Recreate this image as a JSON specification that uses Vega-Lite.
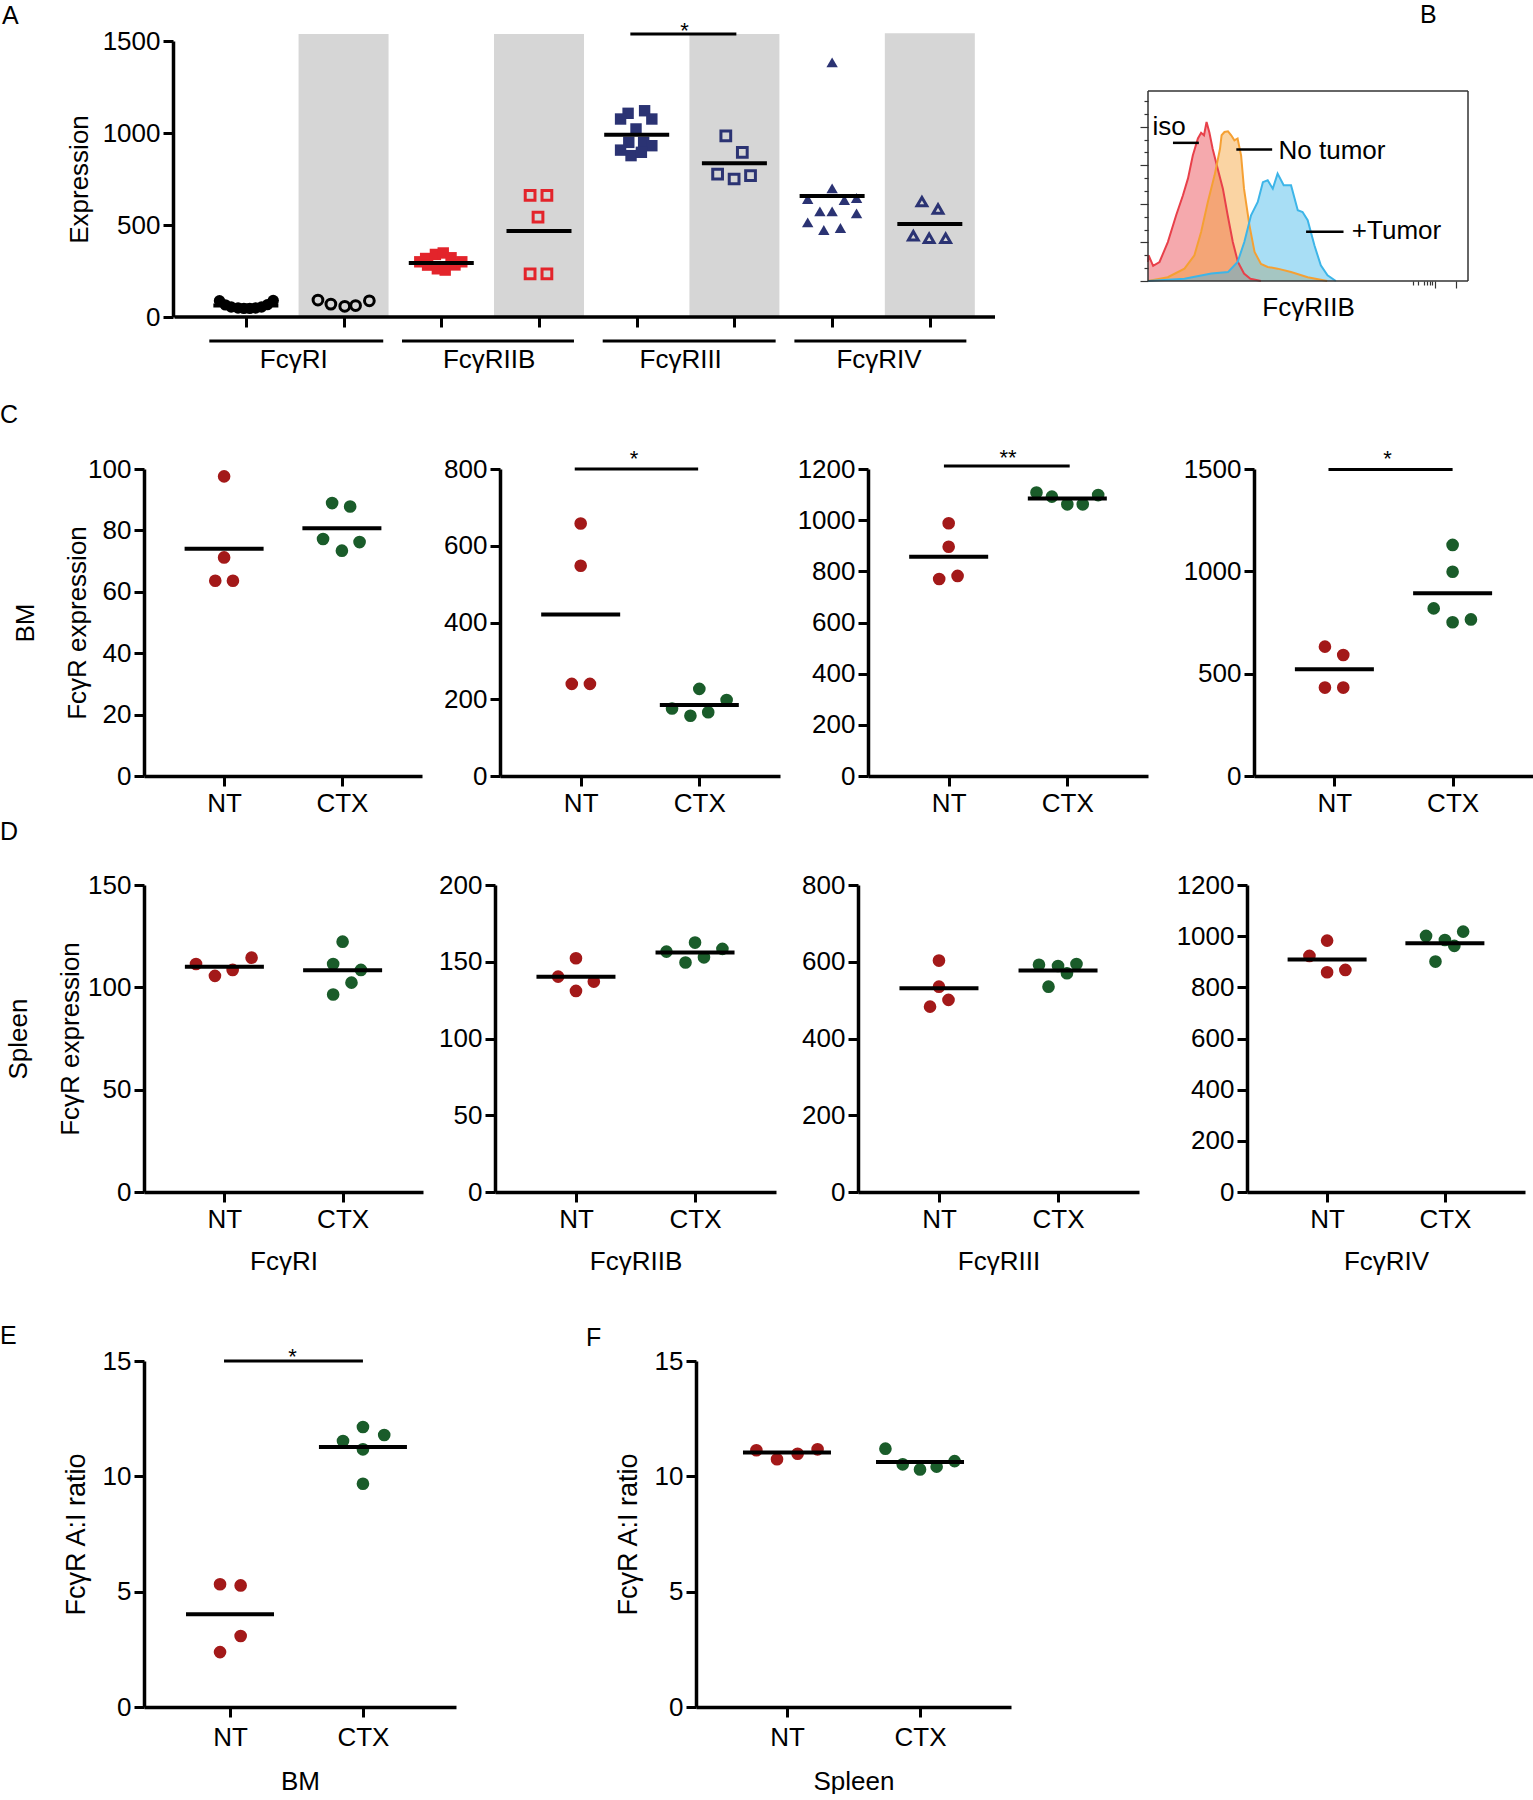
{
"$schema": "https://vega.github.io/schema/vega-lite/v6.json",
"padding": {"left": 0, "top": 3, "right": 0, "bottom": 0},
"background": "white",
"spacing": 30,
"resolve": {"scale": {"color": "independent", "shape": "independent"}},
"config": {
 "font": "Liberation Sans",
 "numberFormat": "d",
 "view": {"stroke": null},
 "axis": {"domainColor": "#000", "domainWidth": 3.5, "tickColor": "#000", "tickWidth": 3, "tickSize": 10, "labelFontSize": 26, "labelColor": "#000", "labelPadding": 3, "labelFlush": false, "labelOverlap": false, "titleFontSize": 26, "titleFontWeight": "normal", "titleColor": "#000", "grid": false, "labelFont": "Liberation Sans", "titleFont": "Liberation Sans", "format": "d"},
 "axisX": {"labelPadding": 4},
 "title": {"fontSize": 25, "fontWeight": "normal", "anchor": "start", "frame": "group", "offset": 0, "baseline": "alphabetic", "color": "#000", "font": "Liberation Sans"}
},
"vconcat": [
 {"hconcat": [
  {"width": 856, "height": 276,
   "title": {"text": "A", "dx": -142, "dy": 13},
   "encoding": {
    "x": {"field": "x", "type": "quantitative", "scale": {"domain": [0.0087, 8.667], "nice": false, "zero": false}, "axis": {"values": [1,2,3,4,5,6,7,8], "labels": false, "domain": false, "title": null}},
    "y": {"field": "v", "type": "quantitative", "scale": {"domain": [0, 1500], "nice": false}, "axis": {"values": [0,500,1000,1500], "offset": -29, "title": "Expression", "titlePadding": 10}}
   },
   "layer": [
    {"data": {"values": [{"x":2,"v":1538},{"x":4,"v":1538},{"x":6,"v":1538},{"x":8,"v":1542}]}, "mark": {"type": "bar", "orient": "vertical", "size": 90, "color": "#d6d6d6", "opacity": 1}},
    {"data": {"values": [{"x":0.27,"x2":8.667,"v":0}]}, "mark": {"type": "rule", "strokeWidth": 3.5, "color": "#000"}, "encoding": {"x2": {"field": "x2"}}},
    {"data": {"values": [
      {"rec":"FcγRI","x":0.73,"v":88},{"rec":"FcγRI","x":0.79,"v":66},{"rec":"FcγRI","x":0.85,"v":54},{"rec":"FcγRI","x":0.92,"v":49},{"rec":"FcγRI","x":0.98,"v":47},{"rec":"FcγRI","x":1.04,"v":47},{"rec":"FcγRI","x":1.10,"v":49},{"rec":"FcγRI","x":1.16,"v":54},{"rec":"FcγRI","x":1.22,"v":67},{"rec":"FcγRI","x":1.28,"v":90},
      {"rec":"FcγRIIB","x":2.78,"v":300},{"rec":"FcγRIIB","x":2.84,"v":318},{"rec":"FcγRIIB","x":2.86,"v":282},{"rec":"FcγRIIB","x":2.94,"v":340},{"rec":"FcγRIIB","x":2.96,"v":262},{"rec":"FcγRIIB","x":3.02,"v":348},{"rec":"FcγRIIB","x":3.04,"v":255},{"rec":"FcγRIIB","x":3.10,"v":322},{"rec":"FcγRIIB","x":3.14,"v":283},{"rec":"FcγRIIB","x":3.21,"v":300},
      {"rec":"FcγRIII","x":4.912,"v":1107},{"rec":"FcγRIII","x":5.081,"v":1121},{"rec":"FcγRIII","x":4.835,"v":1076},{"rec":"FcγRIII","x":5.155,"v":1076},{"rec":"FcγRIII","x":4.993,"v":1022},{"rec":"FcγRIII","x":4.919,"v":949},{"rec":"FcγRIII","x":5.071,"v":949},{"rec":"FcγRIII","x":4.835,"v":907},{"rec":"FcγRIII","x":5.155,"v":931},{"rec":"FcγRIII","x":4.942,"v":877},{"rec":"FcγRIII","x":5.048,"v":895},
      {"rec":"FcγRIV","x":7.0,"v":1384},{"rec":"FcγRIV","x":7.0,"v":699},{"rec":"FcγRIV","x":6.75,"v":641},{"rec":"FcγRIV","x":7.125,"v":636},{"rec":"FcγRIV","x":7.25,"v":647},{"rec":"FcγRIV","x":6.875,"v":574},{"rec":"FcγRIV","x":7.0,"v":574},{"rec":"FcγRIV","x":7.25,"v":563},{"rec":"FcγRIV","x":6.75,"v":514},{"rec":"FcγRIV","x":6.915,"v":473},{"rec":"FcγRIV","x":7.085,"v":484}
     ]},
     "mark": {"type": "point", "filled": true, "size": 130, "opacity": 1},
     "encoding": {
      "shape": {"field": "rec", "type": "nominal", "scale": {"domain": ["FcγRI","FcγRIIB","FcγRIII","FcγRIV"], "range": ["circle","square","square","triangle-up"]}, "legend": null},
      "color": {"field": "rec", "type": "nominal", "scale": {"domain": ["FcγRI","FcγRIIB","FcγRIII","FcγRIV"], "range": ["#000000","#e3242b","#2b3373","#2b3373"]}, "legend": null}
     }},
    {"data": {"values": [
      {"rec":"FcγRI","x":1.738,"v":92},{"rec":"FcγRI","x":1.870,"v":70},{"rec":"FcγRI","x":2.012,"v":58},{"rec":"FcγRI","x":2.123,"v":62},{"rec":"FcγRI","x":2.264,"v":88},
      {"rec":"FcγRIIB","x":3.909,"v":661},{"rec":"FcγRIIB","x":4.081,"v":661},{"rec":"FcγRIIB","x":3.990,"v":543},{"rec":"FcγRIIB","x":3.909,"v":234},{"rec":"FcγRIIB","x":4.081,"v":234},
      {"rec":"FcγRIII","x":5.912,"v":985},{"rec":"FcγRIII","x":6.081,"v":895},{"rec":"FcγRIII","x":5.828,"v":777},{"rec":"FcγRIII","x":5.997,"v":750},{"rec":"FcγRIII","x":6.165,"v":768},
      {"rec":"FcγRIV","x":7.919,"v":627},{"rec":"FcγRIV","x":8.084,"v":587},{"rec":"FcγRIV","x":7.831,"v":442},{"rec":"FcγRIV","x":7.993,"v":428},{"rec":"FcγRIV","x":8.162,"v":428}
     ]},
     "mark": {"type": "point", "filled": false, "size": 95, "strokeWidth": 3, "opacity": 1},
     "encoding": {
      "shape": {"field": "rec", "type": "nominal", "scale": {"domain": ["FcγRI","FcγRIIB","FcγRIII","FcγRIV"], "range": ["circle","square","square","triangle-up"]}, "legend": null},
      "color": {"field": "rec", "type": "nominal", "scale": {"domain": ["FcγRI","FcγRIIB","FcγRIII","FcγRIV"], "range": ["#000000","#e3242b","#2b3373","#2b3373"]}, "legend": null}
     }},
    {"data": {"values": [{"x":1,"v":62},{"x":3,"v":293},{"x":4,"v":467},{"x":5,"v":991},{"x":6,"v":835},{"x":7,"v":657},{"x":8,"v":505}]}, "mark": {"type": "tick", "orient": "horizontal", "size": 65, "thickness": 4, "color": "#000", "opacity": 1}},
    {"data": {"values": [{"x":4.935,"x2":6.02,"v":1538}]}, "mark": {"type": "rule", "strokeWidth": 3, "color": "#000"}, "encoding": {"x2": {"field": "x2"}}},
    {"data": {"values": [{"x":5.49,"v":1538}]}, "mark": {"type": "text", "text": "*", "fontSize": 22, "baseline": "alphabetic", "dy": 4, "color": "#000"}},
    {"data": {"values": [{"x":0.626,"x2":2.406,"v":-130},{"x":2.598,"x2":4.358,"v":-130},{"x":4.652,"x2":6.422,"v":-130},{"x":6.614,"x2":8.374,"v":-130}]}, "mark": {"type": "rule", "strokeWidth": 3, "color": "#000"}, "encoding": {"x2": {"field": "x2"}}},
    {"data": {"values": [{"x":1.49,"v":-232,"t":"FcγRI"},{"x":3.49,"v":-232,"t":"FcγRIIB"},{"x":5.45,"v":-232,"t":"FcγRIII"},{"x":7.48,"v":-232,"t":"FcγRIV"}]}, "mark": {"type": "text", "fontSize": 26, "baseline": "middle", "color": "#000"}, "encoding": {"text": {"field": "t"}}}
   ]
  },
  {"width": 320, "height": 240,
   "title": {"text": "B", "dx": 272, "dy": -9},
   "encoding": {
    "x": {"field": "x", "type": "quantitative", "scale": {"domain": [0, 100], "nice": false, "zero": false}, "axis": {"values": [82.9,84.5,86.1,87.3,88.2,88.9,89.7,96.3], "labels": false, "domain": false, "tickColor": "#333", "tickWidth": 1.2, "tickSize": {"condition": {"test": "datum.value == 89.7 || datum.value == 96.3", "value": 7}, "value": 4}, "title": "FcγRIIB", "titlePadding": 6}},
    "y": {"field": "y", "type": "quantitative", "scale": {"domain": [0, 126.3], "nice": false}, "axis": {"values": [0,6.77,13.53,20.3,27.07,33.83,40.6,47.37,54.13,60.9,67.67,74.43,81.2,87.97,94.73], "labels": false, "domain": false, "tickColor": "#333", "tickWidth": 1.2, "tickSize": {"condition": {"test": "indexof([0,20.3,40.6,60.9,81.2], datum.value) >= 0", "value": 8}, "value": 4}, "title": null}}
   },
   "layer": [
    {"data": {"values": [
      {"s":"iso","x":0,"y":10},{"s":"iso","x":0.2,"y":13.5},{"s":"iso","x":1.6,"y":8},{"s":"iso","x":3.6,"y":10},{"s":"iso","x":6.2,"y":20.5},{"s":"iso","x":8.8,"y":34.6},{"s":"iso","x":10.9,"y":45},{"s":"iso","x":12.5,"y":54},{"s":"iso","x":14,"y":66},{"s":"iso","x":15.6,"y":75},{"s":"iso","x":16.6,"y":78},{"s":"iso","x":17.5,"y":76.7},{"s":"iso","x":18.3,"y":83.7},{"s":"iso","x":19.2,"y":78},{"s":"iso","x":20.2,"y":69.6},{"s":"iso","x":21.8,"y":59},{"s":"iso","x":23.4,"y":48.6},{"s":"iso","x":24.9,"y":34.6},{"s":"iso","x":26.5,"y":20.5},{"s":"iso","x":28.1,"y":10},{"s":"iso","x":30,"y":3.9},{"s":"iso","x":32,"y":1.2},{"s":"iso","x":35.3,"y":0},
      {"s":"no","x":0,"y":0},{"s":"no","x":6.2,"y":2},{"s":"no","x":11.4,"y":6.5},{"s":"no","x":14.5,"y":13.5},{"s":"no","x":16.6,"y":25.8},{"s":"no","x":18.7,"y":41.6},{"s":"no","x":20.8,"y":55.6},{"s":"no","x":22.5,"y":69.6},{"s":"no","x":23,"y":76.7},{"s":"no","x":23.9,"y":78.4},{"s":"no","x":25,"y":78.8},{"s":"no","x":26,"y":76.7},{"s":"no","x":27,"y":74},{"s":"no","x":28,"y":75},{"s":"no","x":29.1,"y":66},{"s":"no","x":30,"y":48.6},{"s":"no","x":31.7,"y":29.3},{"s":"no","x":33.3,"y":15.3},{"s":"no","x":35.3,"y":9},{"s":"no","x":37.4,"y":7.4},{"s":"no","x":40.5,"y":6.5},{"s":"no","x":44.7,"y":4.7},{"s":"no","x":49.9,"y":2},{"s":"no","x":56,"y":0},
      {"s":"tumor","x":0,"y":0},{"s":"tumor","x":11.4,"y":1.2},{"s":"tumor","x":19.8,"y":3.9},{"s":"tumor","x":25,"y":4.7},{"s":"tumor","x":28,"y":10},{"s":"tumor","x":30.1,"y":20.5},{"s":"tumor","x":32.2,"y":34.6},{"s":"tumor","x":34.3,"y":41.6},{"s":"tumor","x":35.9,"y":52},{"s":"tumor","x":37.4,"y":53},{"s":"tumor","x":39,"y":48.6},{"s":"tumor","x":40.5,"y":56.5},{"s":"tumor","x":42.4,"y":50.4},{"s":"tumor","x":44.7,"y":50.4},{"s":"tumor","x":46.8,"y":37.2},{"s":"tumor","x":48.3,"y":36.3},{"s":"tumor","x":49.9,"y":32},{"s":"tumor","x":52,"y":18.8},{"s":"tumor","x":54,"y":8.2},{"s":"tumor","x":56.1,"y":3},{"s":"tumor","x":58.7,"y":0}
     ]},
     "mark": {"type": "area", "fillOpacity": 0.45, "line": {"strokeWidth": 2}},
     "encoding": {
      "y": {"field": "y", "type": "quantitative", "stack": null},
      "color": {"field": "s", "type": "nominal", "scale": {"domain": ["iso","no","tumor"], "range": ["#e8404a","#f5a033","#3db5e8"]}, "legend": null}
     }},
    {"data": {"values": [{"x":0,"x2":100,"y":0},{"x":0,"x2":100,"y":100}]}, "mark": {"type": "rule", "strokeWidth": 1.5, "color": "#333"}, "encoding": {"x2": {"field": "x2"}}},
    {"data": {"values": [{"x":0,"y":0,"y2":100},{"x":100,"y":0,"y2":100}]}, "mark": {"type": "rule", "strokeWidth": 1.5, "color": "#333"}, "encoding": {"y2": {"field": "y2"}}},
    {"data": {"values": [{"x":7.8,"x2":15.9,"y":72.7},{"x":27.6,"x2":38.8,"y":69.2},{"x":49.4,"x2":61.1,"y":25.9}]}, "mark": {"type": "rule", "strokeWidth": 2.5, "color": "#000"}, "encoding": {"x2": {"field": "x2"}}},
    {"data": {"values": [{"x":1.4,"y":81,"t":"iso"},{"x":40.8,"y":68.5,"t":"No tumor"},{"x":63.7,"y":26.3,"t":"+Tumor"}]}, "mark": {"type": "text", "fontSize": 26, "align": "left", "baseline": "middle", "color": "#000"}, "encoding": {"text": {"field": "t"}}}
   ]
  }
 ], "spacing": 139, "resolve": {"scale": {"color": "independent", "shape": "independent"}}},
 {"vconcat": [
  {"hconcat": [
   {"width": 278, "height": 307,
    "title": {"text": "C", "dx": -144, "dy": -24},
    "encoding": {
     "x": {"field": "x", "type": "quantitative", "scale": {"domain": [0.32, 2.68], "nice": false, "zero": false}, "axis": {"values": [1,2], "labelExpr": "datum.value == 1 ? 'NT' : 'CTX'", "title": null}},
     "y": {"field": "v", "type": "quantitative", "scale": {"domain": [0, 100], "nice": false}, "axis": {"values": [0,20,40,60,80,100], "title": ["BM", "FcγR expression"], "titleLineHeight": 52, "titlePadding": -3}}
    },
    "layer": [
     {"data": {"values": [{"g":"NT","x":1,"v":97.6},{"g":"NT","x":1,"v":71.2},{"g":"NT","x":0.925,"v":63.6},{"g":"NT","x":1.075,"v":63.6},{"g":"CTX","x":1.917,"v":88.9},{"g":"CTX","x":2.07,"v":87.8},{"g":"CTX","x":1.84,"v":77.2},{"g":"CTX","x":2.15,"v":76.2},{"g":"CTX","x":2.0,"v":73.4}]},
      "mark": {"type": "point", "filled": true, "size": 160, "opacity": 1},
      "encoding": {"color": {"field": "g", "type": "nominal", "scale": {"domain": ["NT","CTX"], "range": ["#a31919","#1a5c2a"]}, "legend": null}}},
     {"data": {"values": [{"x":1,"v":74.0},{"x":2,"v":80.7}]}, "mark": {"type": "tick", "orient": "horizontal", "size": 79, "thickness": 4, "color": "#000", "opacity": 1}}
    ]
   },
   {"hconcat": [
    {"width": 280, "height": 307,
     "encoding": {
      "x": {"field": "x", "type": "quantitative", "scale": {"domain": [0.32, 2.68], "nice": false, "zero": false}, "axis": {"values": [1,2], "labelExpr": "datum.value == 1 ? 'NT' : 'CTX'", "title": null}},
      "y": {"field": "v", "type": "quantitative", "scale": {"domain": [0, 800], "nice": false}, "axis": {"values": [0,200,400,600,800], "title": null}}
     },
     "layer": [
      {"data": {"values": [{"g":"NT","x":1,"v":658},{"g":"NT","x":1,"v":548},{"g":"NT","x":0.925,"v":240},{"g":"NT","x":1.078,"v":240},{"g":"CTX","x":2.0,"v":227},{"g":"CTX","x":2.23,"v":198},{"g":"CTX","x":1.77,"v":176},{"g":"CTX","x":2.075,"v":166},{"g":"CTX","x":1.925,"v":157}]},
       "mark": {"type": "point", "filled": true, "size": 160, "opacity": 1},
       "encoding": {"color": {"field": "g", "type": "nominal", "scale": {"domain": ["NT","CTX"], "range": ["#a31919","#1a5c2a"]}, "legend": null}}},
      {"data": {"values": [{"x":1,"v":421},{"x":2,"v":185}]}, "mark": {"type": "tick", "orient": "horizontal", "size": 79, "thickness": 4, "color": "#000", "opacity": 1}},
      {"data": {"values": [{"x":0.95,"x2":1.99,"v":800}]}, "mark": {"type": "rule", "strokeWidth": 3, "color": "#000"}, "encoding": {"x2": {"field": "x2"}}},
      {"data": {"values": [{"x":1.45,"v":800}]}, "mark": {"type": "text", "text": "*", "fontSize": 22, "baseline": "alphabetic", "dy": -3, "color": "#000"}}
     ]
    },
    {"hconcat": [
     {"width": 280, "height": 307,
      "encoding": {
       "x": {"field": "x", "type": "quantitative", "scale": {"domain": [0.32, 2.68], "nice": false, "zero": false}, "axis": {"values": [1,2], "labelExpr": "datum.value == 1 ? 'NT' : 'CTX'", "title": null}},
       "y": {"field": "v", "type": "quantitative", "scale": {"domain": [0, 1200], "nice": false}, "axis": {"values": [0,200,400,600,800,1000,1200], "title": null}}
      },
      "layer": [
       {"data": {"values": [{"g":"NT","x":1,"v":988},{"g":"NT","x":1,"v":896},{"g":"NT","x":0.92,"v":770},{"g":"NT","x":1.075,"v":782},{"g":"CTX","x":1.74,"v":1108},{"g":"CTX","x":1.87,"v":1092},{"g":"CTX","x":2.0,"v":1062},{"g":"CTX","x":2.13,"v":1062},{"g":"CTX","x":2.26,"v":1098}]},
        "mark": {"type": "point", "filled": true, "size": 160, "opacity": 1},
        "encoding": {"color": {"field": "g", "type": "nominal", "scale": {"domain": ["NT","CTX"], "range": ["#a31919","#1a5c2a"]}, "legend": null}}},
       {"data": {"values": [{"x":1,"v":857},{"x":2,"v":1085}]}, "mark": {"type": "tick", "orient": "horizontal", "size": 79, "thickness": 4, "color": "#000", "opacity": 1}},
       {"data": {"values": [{"x":0.96,"x2":2.02,"v":1212}]}, "mark": {"type": "rule", "strokeWidth": 3, "color": "#000"}, "encoding": {"x2": {"field": "x2"}}},
       {"data": {"values": [{"x":1.5,"v":1212}]}, "mark": {"type": "text", "text": "**", "fontSize": 22, "baseline": "alphabetic", "dy": -1, "color": "#000"}}
      ]
     },
     {"width": 279, "height": 307,
      "encoding": {
       "x": {"field": "x", "type": "quantitative", "scale": {"domain": [0.32, 2.68], "nice": false, "zero": false}, "axis": {"values": [1,2], "labelExpr": "datum.value == 1 ? 'NT' : 'CTX'", "title": null}},
       "y": {"field": "v", "type": "quantitative", "scale": {"domain": [0, 1500], "nice": false}, "axis": {"values": [0,500,1000,1500], "title": null}}
      },
      "layer": [
       {"data": {"values": [{"g":"NT","x":0.92,"v":632},{"g":"NT","x":1.075,"v":591},{"g":"NT","x":0.92,"v":432},{"g":"NT","x":1.075,"v":432},{"g":"CTX","x":2.0,"v":1129},{"g":"CTX","x":2.0,"v":998},{"g":"CTX","x":1.84,"v":819},{"g":"CTX","x":2.0,"v":751},{"g":"CTX","x":2.155,"v":765}]},
        "mark": {"type": "point", "filled": true, "size": 160, "opacity": 1},
        "encoding": {"color": {"field": "g", "type": "nominal", "scale": {"domain": ["NT","CTX"], "range": ["#a31919","#1a5c2a"]}, "legend": null}}},
       {"data": {"values": [{"x":1,"v":521},{"x":2,"v":893}]}, "mark": {"type": "tick", "orient": "horizontal", "size": 79, "thickness": 4, "color": "#000", "opacity": 1}},
       {"data": {"values": [{"x":0.95,"x2":2.0,"v":1498}]}, "mark": {"type": "rule", "strokeWidth": 3, "color": "#000"}, "encoding": {"x2": {"field": "x2"}}},
       {"data": {"values": [{"x":1.45,"v":1498}]}, "mark": {"type": "text", "text": "*", "fontSize": 22, "baseline": "alphabetic", "dy": -3, "color": "#000"}}
      ]
     }
    ], "spacing": 35, "resolve": {"scale": {"color": "independent", "shape": "independent"}}}
   ], "spacing": 17, "resolve": {"scale": {"color": "independent", "shape": "independent"}}}
  ], "spacing": 21, "resolve": {"scale": {"color": "independent", "shape": "independent"}}},
  {"vconcat": [
   {"hconcat": [
    {"width": 279, "height": 307,
     "title": {"text": "D", "dx": -144, "dy": -23.5},
     "encoding": {
      "x": {"field": "x", "type": "quantitative", "scale": {"domain": [0.32, 2.68], "nice": false, "zero": false}, "axis": {"values": [1,2], "labelExpr": "datum.value == 1 ? 'NT' : 'CTX'", "title": "FcγRI", "titlePadding": 16}},
      "y": {"field": "v", "type": "quantitative", "scale": {"domain": [0, 150], "nice": false}, "axis": {"values": [0,50,100,150], "title": ["Spleen", "FcγR expression"], "titleLineHeight": 52, "titlePadding": 4}}
     },
     "layer": [
      {"data": {"values": [{"g":"NT","x":0.76,"v":111.4},{"g":"NT","x":0.92,"v":105.6},{"g":"NT","x":1.07,"v":108.5},{"g":"NT","x":1.23,"v":114.5},{"g":"CTX","x":2.0,"v":122.3},{"g":"CTX","x":1.92,"v":111.4},{"g":"CTX","x":2.155,"v":108.5},{"g":"CTX","x":2.075,"v":102.3},{"g":"CTX","x":1.92,"v":96.5}]},
       "mark": {"type": "point", "filled": true, "size": 160, "opacity": 1},
       "encoding": {"color": {"field": "g", "type": "nominal", "scale": {"domain": ["NT","CTX"], "range": ["#a31919","#1a5c2a"]}, "legend": null}}},
      {"data": {"values": [{"x":1,"v":110.1},{"x":2,"v":108.4}]}, "mark": {"type": "tick", "orient": "horizontal", "size": 79, "thickness": 4, "color": "#000", "opacity": 1}}
     ]
    },
    {"hconcat": [
     {"width": 281, "height": 307,
      "encoding": {
       "x": {"field": "x", "type": "quantitative", "scale": {"domain": [0.32, 2.68], "nice": false, "zero": false}, "axis": {"values": [1,2], "labelExpr": "datum.value == 1 ? 'NT' : 'CTX'", "title": "FcγRIIB", "titlePadding": 16}},
       "y": {"field": "v", "type": "quantitative", "scale": {"domain": [0, 200], "nice": false}, "axis": {"values": [0,50,100,150,200], "title": null}}
      },
      "layer": [
       {"data": {"values": [{"g":"NT","x":1.0,"v":152.3},{"g":"NT","x":0.85,"v":140.3},{"g":"NT","x":1.15,"v":137.1},{"g":"NT","x":1.0,"v":131.0},{"g":"CTX","x":2.0,"v":162.5},{"g":"CTX","x":1.76,"v":156.6},{"g":"CTX","x":2.23,"v":158.4},{"g":"CTX","x":1.92,"v":149.5},{"g":"CTX","x":2.075,"v":152.9}]},
        "mark": {"type": "point", "filled": true, "size": 160, "opacity": 1},
        "encoding": {"color": {"field": "g", "type": "nominal", "scale": {"domain": ["NT","CTX"], "range": ["#a31919","#1a5c2a"]}, "legend": null}}},
       {"data": {"values": [{"x":1,"v":140.3},{"x":2,"v":156.0}]}, "mark": {"type": "tick", "orient": "horizontal", "size": 79, "thickness": 4, "color": "#000", "opacity": 1}}
      ]
     },
     {"hconcat": [
      {"width": 281, "height": 307,
       "encoding": {
        "x": {"field": "x", "type": "quantitative", "scale": {"domain": [0.32, 2.68], "nice": false, "zero": false}, "axis": {"values": [1,2], "labelExpr": "datum.value == 1 ? 'NT' : 'CTX'", "title": "FcγRIII", "titlePadding": 16}},
        "y": {"field": "v", "type": "quantitative", "scale": {"domain": [0, 800], "nice": false}, "axis": {"values": [0,200,400,600,800], "title": null}}
       },
       "layer": [
        {"data": {"values": [{"g":"NT","x":1.0,"v":603},{"g":"NT","x":1.0,"v":535},{"g":"NT","x":1.08,"v":500.6},{"g":"NT","x":0.925,"v":483},{"g":"CTX","x":1.84,"v":592},{"g":"CTX","x":2.0,"v":589},{"g":"CTX","x":2.155,"v":594},{"g":"CTX","x":2.075,"v":570},{"g":"CTX","x":1.92,"v":535}]},
         "mark": {"type": "point", "filled": true, "size": 160, "opacity": 1},
         "encoding": {"color": {"field": "g", "type": "nominal", "scale": {"domain": ["NT","CTX"], "range": ["#a31919","#1a5c2a"]}, "legend": null}}},
        {"data": {"values": [{"x":1,"v":531},{"x":2,"v":577}]}, "mark": {"type": "tick", "orient": "horizontal", "size": 79, "thickness": 4, "color": "#000", "opacity": 1}}
       ]
      },
      {"width": 278, "height": 307,
       "encoding": {
        "x": {"field": "x", "type": "quantitative", "scale": {"domain": [0.32, 2.68], "nice": false, "zero": false}, "axis": {"values": [1,2], "labelExpr": "datum.value == 1 ? 'NT' : 'CTX'", "title": "FcγRIV", "titlePadding": 16}},
        "y": {"field": "v", "type": "quantitative", "scale": {"domain": [0, 1200], "nice": false}, "axis": {"values": [0,200,400,600,800,1000,1200], "title": null}}
       },
       "layer": [
        {"data": {"values": [{"g":"NT","x":1.0,"v":982.6},{"g":"NT","x":0.85,"v":922.8},{"g":"NT","x":1.0,"v":859},{"g":"NT","x":1.155,"v":868},{"g":"CTX","x":1.84,"v":1000.9},{"g":"CTX","x":2.155,"v":1017.8},{"g":"CTX","x":2.0,"v":985},{"g":"CTX","x":2.08,"v":962},{"g":"CTX","x":1.92,"v":900.7}]},
         "mark": {"type": "point", "filled": true, "size": 160, "opacity": 1},
         "encoding": {"color": {"field": "g", "type": "nominal", "scale": {"domain": ["NT","CTX"], "range": ["#a31919","#1a5c2a"]}, "legend": null}}},
        {"data": {"values": [{"x":1,"v":908.5},{"x":2,"v":972}]}, "mark": {"type": "tick", "orient": "horizontal", "size": 79, "thickness": 4, "color": "#000", "opacity": 1}}
       ]
      }
     ], "spacing": 37, "resolve": {"scale": {"color": "independent", "shape": "independent"}}}
    ], "spacing": 25, "resolve": {"scale": {"color": "independent", "shape": "independent"}}}
   ], "spacing": 15, "resolve": {"scale": {"color": "independent", "shape": "independent"}}},
   {"hconcat": [
    {"width": 312, "height": 346,
     "title": {"text": "E", "dx": -144, "dy": 7},
     "encoding": {
      "x": {"field": "x", "type": "quantitative", "scale": {"domain": [0.353, 2.70], "nice": false, "zero": false}, "axis": {"values": [1,2], "labelExpr": "datum.value == 1 ? 'NT' : 'CTX'", "title": "BM", "labelPadding": 7, "titlePadding": 18}},
      "y": {"field": "v", "type": "quantitative", "scale": {"domain": [0, 15], "nice": false}, "axis": {"values": [0,5,10,15], "title": "FcγR A:I ratio", "titleFontSize": 27, "titlePadding": 12}}
     },
     "layer": [
      {"data": {"values": [{"g":"NT","x":0.925,"v":5.32},{"g":"NT","x":1.08,"v":5.27},{"g":"NT","x":1.08,"v":3.08},{"g":"NT","x":0.925,"v":2.38},{"g":"CTX","x":2.0,"v":12.14},{"g":"CTX","x":2.16,"v":11.79},{"g":"CTX","x":1.85,"v":11.53},{"g":"CTX","x":2.0,"v":11.17},{"g":"CTX","x":2.0,"v":9.68}]},
       "mark": {"type": "point", "filled": true, "size": 160, "opacity": 1},
       "encoding": {"color": {"field": "g", "type": "nominal", "scale": {"domain": ["NT","CTX"], "range": ["#a31919","#1a5c2a"]}, "legend": null}}},
      {"data": {"values": [{"x":1,"v":4.02},{"x":2,"v":11.27}]}, "mark": {"type": "tick", "orient": "horizontal", "size": 88, "thickness": 4, "color": "#000", "opacity": 1}},
      {"data": {"values": [{"x":0.955,"x2":2.0,"v":15}]}, "mark": {"type": "rule", "strokeWidth": 3, "color": "#000"}, "encoding": {"x2": {"field": "x2"}}},
      {"data": {"values": [{"x":1.47,"v":15}]}, "mark": {"type": "text", "text": "*", "fontSize": 22, "baseline": "alphabetic", "dy": 3, "color": "#000"}}
     ]
    },
    {"width": 315, "height": 346,
     "title": {"text": "F", "dx": -110, "dy": 7},
     "encoding": {
      "x": {"field": "x", "type": "quantitative", "scale": {"domain": [0.316, 2.684], "nice": false, "zero": false}, "axis": {"values": [1,2], "labelExpr": "datum.value == 1 ? 'NT' : 'CTX'", "title": "Spleen", "labelPadding": 7, "titlePadding": 18}},
      "y": {"field": "v", "type": "quantitative", "scale": {"domain": [0, 15], "nice": false}, "axis": {"values": [0,5,10,15], "title": "FcγR A:I ratio", "titleFontSize": 27, "titlePadding": 12}}
     },
     "layer": [
      {"data": {"values": [{"g":"NT","x":0.77,"v":11.13},{"g":"NT","x":0.925,"v":10.74},{"g":"NT","x":1.08,"v":10.98},{"g":"NT","x":1.23,"v":11.17},{"g":"CTX","x":1.74,"v":11.2},{"g":"CTX","x":1.87,"v":10.52},{"g":"CTX","x":2.0,"v":10.30},{"g":"CTX","x":2.125,"v":10.42},{"g":"CTX","x":2.26,"v":10.66}]},
       "mark": {"type": "point", "filled": true, "size": 160, "opacity": 1},
       "encoding": {"color": {"field": "g", "type": "nominal", "scale": {"domain": ["NT","CTX"], "range": ["#a31919","#1a5c2a"]}, "legend": null}}},
      {"data": {"values": [{"x":1,"v":11.03},{"x":2,"v":10.62}]}, "mark": {"type": "tick", "orient": "horizontal", "size": 88, "thickness": 4, "color": "#000", "opacity": 1}}
     ]
    }
   ], "spacing": 130, "resolve": {"scale": {"color": "independent", "shape": "independent"}}}
  ], "spacing": 50, "resolve": {"scale": {"color": "independent", "shape": "independent"}}}
 ], "spacing": 3, "resolve": {"scale": {"color": "independent", "shape": "independent"}}}
]
}
